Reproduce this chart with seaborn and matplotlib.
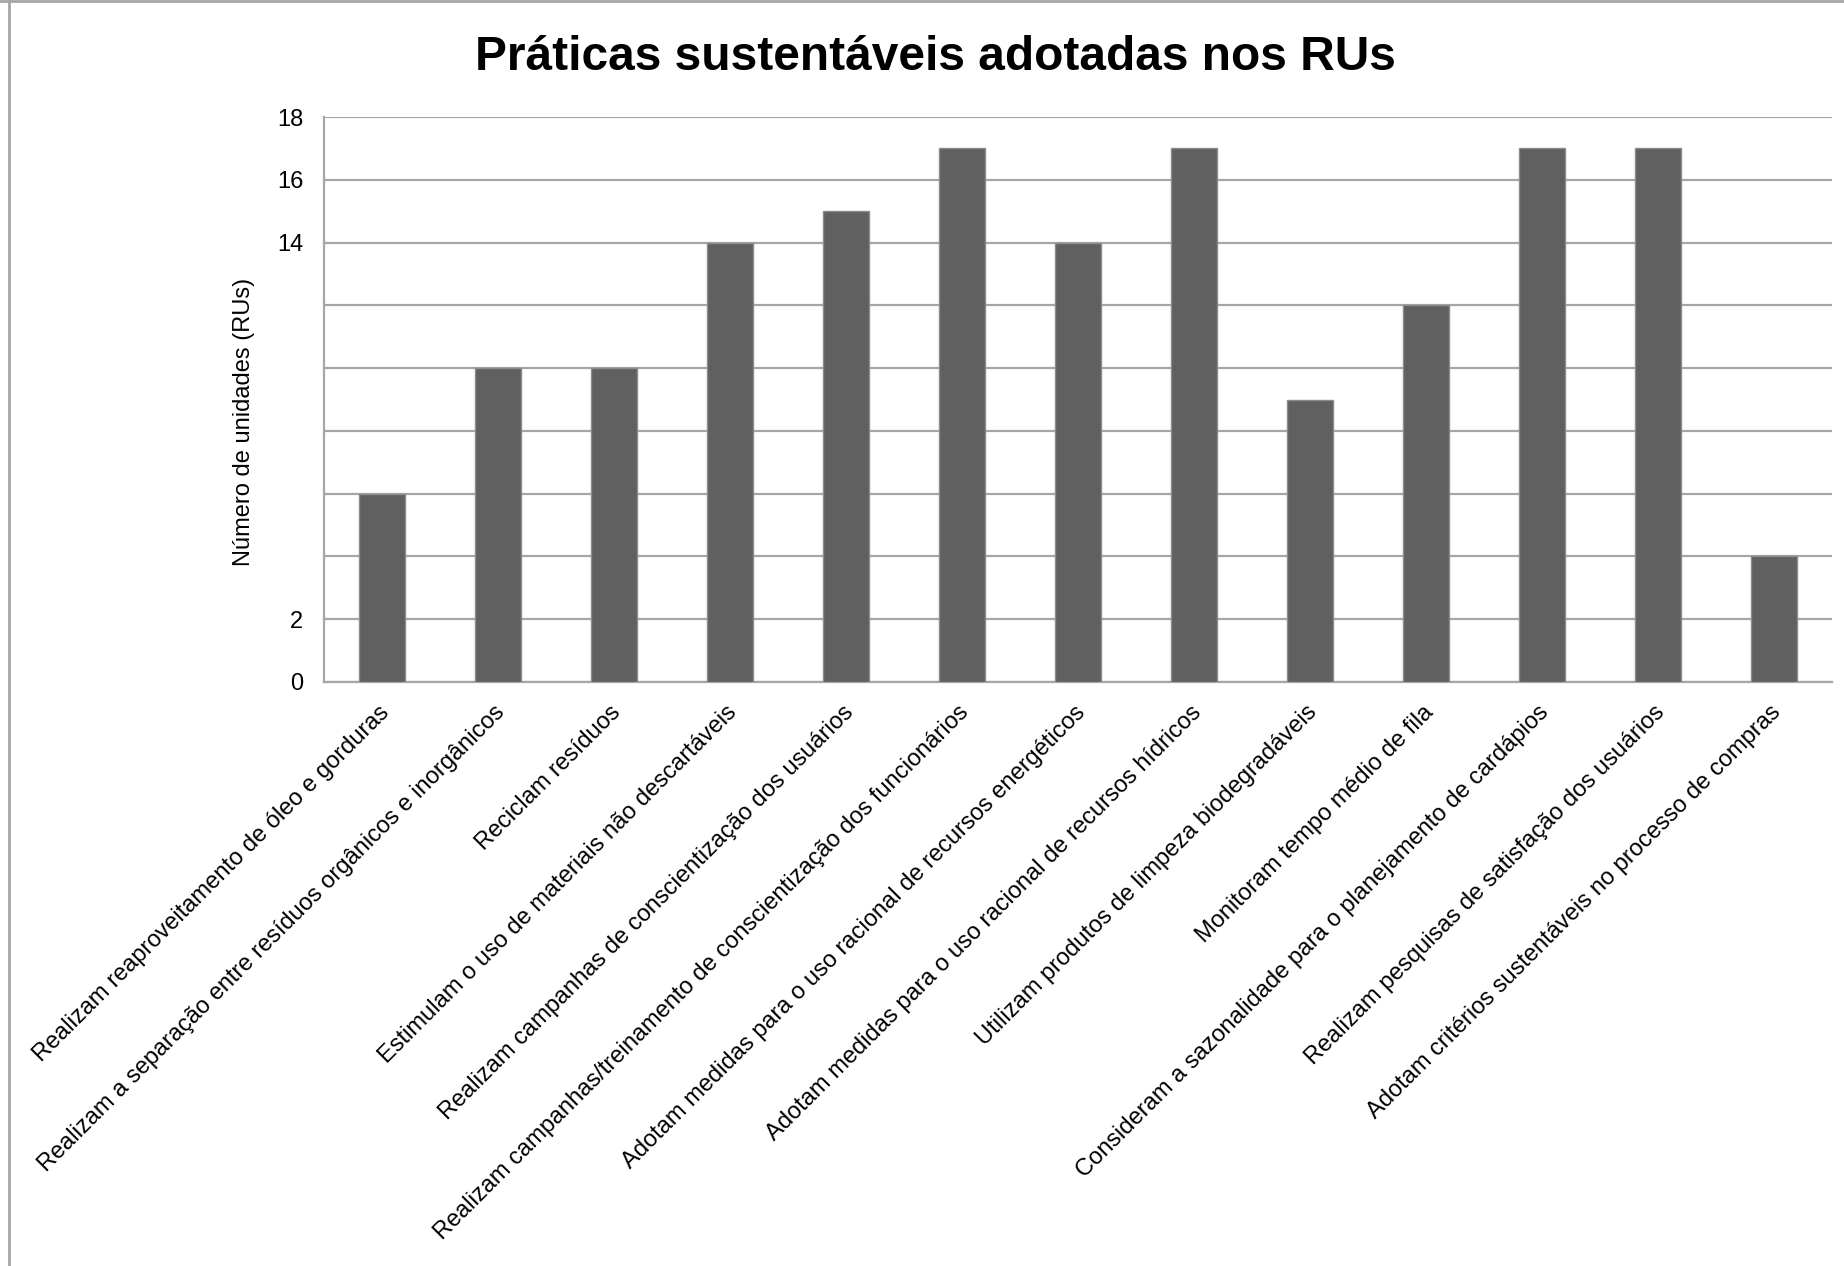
import numpy as np
import pandas as pd
import matplotlib
matplotlib.use('Agg')
import matplotlib.pyplot as plt
import matplotlib.transforms as mtransforms
from matplotlib.lines import Line2D
import seaborn as sns

# Data
praticas = [
    'Realizam reaproveitamento de óleo e gorduras',
    'Realizam a separação entre resíduos orgânicos e inorgânicos',
    'Reciclam resíduos',
    'Estimulam o uso de materiais não descartáveis',
    'Realizam campanhas de conscientização dos usuários',
    'Realizam campanhas/treinamento de conscientização dos funcionários',
    'Adotam medidas para o uso racional de recursos energéticos',
    'Adotam medidas para o uso racional de recursos hídricos',
    'Utilizam produtos de limpeza biodegradáveis',
    'Monitoram tempo médio de fila',
    'Consideram a sazonalidade para o planejamento de cardápios',
    'Realizam pesquisas de satisfação dos usuários',
    'Adotam critérios sustentáveis no processo de compras',
]
unidades = [6, 10, 10, 14, 15, 17, 14, 17, 9, 12, 17, 17, 4]
y_ticks = [0, 2, 4, 6, 8, 10, 12, 14, 16, 18]
y_tick_labels = ['0', '2', '', '', '', '', '', '14', '16', '18']  # middle labels hidden in the original

df = pd.DataFrame({'pratica': praticas, 'unidades': unidades})

sns.set_style('white')
plt.rcParams['font.family'] = ['Liberation Sans', 'DejaVu Sans']
plt.rcParams['text.color'] = 'black'
plt.rcParams['axes.labelcolor'] = 'black'
plt.rcParams['xtick.color'] = 'black'
plt.rcParams['ytick.color'] = 'black'

fig = plt.figure(figsize=(18.44, 12.66), dpi=100)
ax = fig.add_axes([324 / 1844, 1 - 682 / 1266, (1832 - 324) / 1844, (682 - 117) / 1266])

sns.barplot(data=df, x='pratica', y='unidades', color='#606060', width=0.4,
            edgecolor='#8c8c8c', linewidth=1, saturation=1, ax=ax, zorder=3)

ax.set_xlim(-0.5, len(praticas) - 0.5)
ax.set_ylim(0, 18)
ax.set_yticks(y_ticks)
ax.set_yticklabels(y_tick_labels)
ax.yaxis.grid(True, color='#a6a6a6', linewidth=1.6, zorder=0)
ax.set_axisbelow(True)
for s in ['top', 'right']:
    ax.spines[s].set_visible(False)
for s in ['left', 'bottom']:
    ax.spines[s].set_color('#a6a6a6')
    ax.spines[s].set_linewidth(1.6)

ax.tick_params(axis='y', length=0, pad=15, labelsize=17)
ax.tick_params(axis='x', length=0, pad=14, labelsize=17)
plt.setp(ax.get_xticklabels(), rotation=45, ha='right', va='top', rotation_mode='anchor')
offset = mtransforms.ScaledTranslation(-4 / 100, 0, fig.dpi_scale_trans)
for lab in ax.get_xticklabels():
    lab.set_transform(lab.get_transform() + offset)

ax.set_xlabel('')
ax.set_ylabel('Número de unidades (RUs)', fontsize=17)
ax.yaxis.set_label_coords(-0.046, 0.46)

fig.text(935 / 1844, 1 - 58 / 1266, 'Práticas sustentáveis adotadas nos RUs',
         ha='center', va='center', fontsize=34.5, fontweight='bold')

# chart frame
fig.add_artist(Line2D([0, 1], [0.999, 0.999], color='#a6a6a6', linewidth=2, transform=fig.transFigure))
fig.add_artist(Line2D([9 / 1844, 9 / 1844], [0, 1], color='#a6a6a6', linewidth=2, transform=fig.transFigure))

fig.savefig('out.png', dpi=100, facecolor='white')
